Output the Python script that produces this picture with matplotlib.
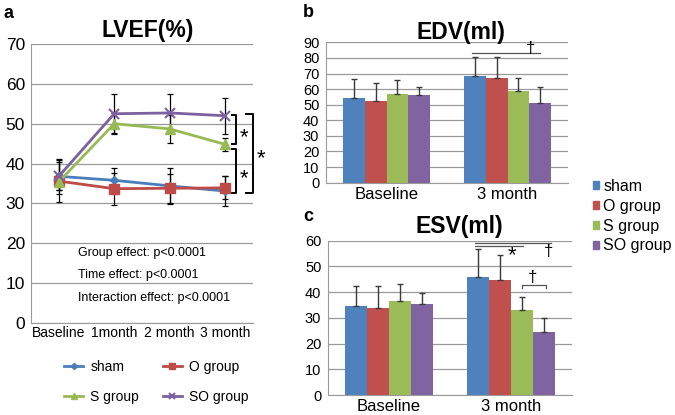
import matplotlib
matplotlib.use('Agg')
import matplotlib.pyplot as plt
from matplotlib.patches import Patch
import numpy as np

plt.rcParams['font.family'] = ['Liberation Sans', 'DejaVu Sans']

# Data
groups = ['sham', 'O group', 'S group', 'SO group']
time_points = ['Baseline', '1month', '2 month', '3 month']

lvef_sham = [36.8, 35.8, 34.4, 33.1]
lvef_o = [35.6, 33.7, 33.8, 33.9]
lvef_s = [35.4, 50.0, 48.7, 44.8]
lvef_so = [36.8, 52.5, 52.7, 52.0]
lvef_sham_sd = [4.4, 3.1, 4.5, 3.7]
lvef_o_sd = [5.2, 4.0, 3.7, 2.9]
lvef_s_sd = [2.0, 2.6, 3.5, 1.6]
lvef_so_sd = [3.5, 4.9, 4.8, 4.5]

vol_points = ['Baseline', '3 month']
edv_sham = [54.5, 68.5]
edv_o = [52.5, 67.3]
edv_s = [56.8, 58.5]
edv_so = [56.0, 51.0]
edv_sham_sd = [12.0, 12.0]
edv_o_sd = [11.5, 13.2]
edv_s_sd = [9.2, 8.5]
edv_so_sd = [5.5, 10.5]

esv_sham = [34.5, 46.0]
esv_o = [33.8, 44.6]
esv_s = [36.7, 33.0]
esv_so = [35.5, 24.5]
esv_sham_sd = [8.0, 10.7]
esv_o_sd = [8.7, 9.9]
esv_s_sd = [6.3, 5.0]
esv_so_sd = [4.2, 5.5]

line_colors = ['#4A7EBB', '#BE4B48', '#98B954', '#7D60A0']
bar_colors = ['#4F81BD', '#C0504D', '#9BBB59', '#8064A2']
grid_color = '#9A9A9A'

W, H = 675, 415
fig = plt.figure(figsize=(W / 100, H / 100), dpi=100)


def px_axes(l, t, r, b):
    return fig.add_axes([l / W, (H - b) / H, (r - l) / W, (b - t) / H])


def style_axes(ax):
    for side in ['top', 'right']:
        ax.spines[side].set_visible(False)
    for side in ['left', 'bottom']:
        ax.spines[side].set_color(grid_color)
    ax.set_axisbelow(True)
    ax.grid(axis='y', color=grid_color, linewidth=0.9)
    ax.tick_params(length=0)


# ---- panel a: LVEF line chart ----
ax = px_axes(31, 44, 253, 323)
style_axes(ax)
x = np.arange(len(time_points))
means = [lvef_sham, lvef_o, lvef_s, lvef_so]
sds = [lvef_sham_sd, lvef_o_sd, lvef_s_sd, lvef_so_sd]
markers = ['D', 's', '^', 'x']
msizes = [4.5, 7, 7, 7]
handles = []
for m, sd in zip(means, sds):
    ax.errorbar(x, m, yerr=sd, fmt='none', ecolor='black', elinewidth=0.9,
                capsize=2.2, capthick=0.9, zorder=2)
for m, c, mk, ms, g in zip(means, line_colors, markers, msizes, groups):
    h, = ax.plot(x, m, color=c, marker=mk, markersize=ms, linewidth=2,
                 mew=1.5 if mk == 'x' else 1, label=g, zorder=3)
    handles.append(h)
ax.set_xlim(-0.5, 3.5)
ax.set_ylim(0, 70)
ax.set_yticks(range(0, 71, 10))
ax.set_xticks(x)
ax.set_xticklabels(time_points, fontsize=10)
ax.tick_params(axis='y', labelsize=12.5, pad=4.3)
ax.tick_params(axis='x', pad=2)


# significance brackets (right of the line chart)
def bracket(ax, xv, xh, y0, y1):
    ax.plot([xh, xv, xv, xh], [y0, y0, y1, y1], color='black', lw=1.4,
            clip_on=False)


bracket(ax, 3.20, 3.12, 52.3, 44.8)
bracket(ax, 3.20, 3.12, 43.6, 32.7)
bracket(ax, 3.50, 3.38, 52.4, 32.7)
star = dict(fontsize=16, ha='center', va='center', clip_on=False)
ax.text(3.33, 46.5, '*', **star)
ax.text(3.33, 36.3, '*', **star)
ax.text(3.64, 41.1, '*', **star)

ax.text(0.35, 17.6, 'Group effect: p<0.0001', fontsize=9, va='center')
ax.text(0.35, 12.0, 'Time effect: p<0.0001', fontsize=9, va='center')
ax.text(0.35, 6.2, 'Interaction effect: p<0.0001', fontsize=9, va='center')

fig.legend([handles[0], handles[2], handles[1], handles[3]],
           [groups[0], groups[2], groups[1], groups[3]],
           ncol=2, loc='upper left', bbox_to_anchor=(64 / W, 1 - 360 / H),
           frameon=False, fontsize=10, handlelength=1.4, handletextpad=0.5,
           labelspacing=1.15, columnspacing=1.7, borderpad=0, borderaxespad=0,
           markerscale=0.7)

fig.text(148 / W, 1 - 37 / H, 'LVEF(%)', fontsize=16.5, fontweight='bold',
         ha='center', va='baseline')
fig.text(3 / W, 1 - 18 / H, 'a', fontsize=13, fontweight='bold', va='baseline')


# ---- panels b and c: bar charts ----
def bar_panel(ax, series, errs, ymax):
    style_axes(ax)
    xb = np.arange(len(vol_points))
    width = 0.18
    offsets = [-1.5, -0.5, 0.5, 1.5]
    for vals, sd, c, off in zip(series, errs, bar_colors, offsets):
        ax.bar(xb + off * width, vals, width, color=c,
               yerr=[np.zeros(len(sd)), sd],
               error_kw=dict(ecolor='#3A3A3A', elinewidth=1, capsize=2,
                             capthick=1))
    ax.set_xlim(-0.5, 1.5)
    ax.set_ylim(0, ymax)
    ax.set_yticks(range(0, ymax + 1, 10))
    ax.set_xticks(xb)
    ax.set_xticklabels(vol_points, fontsize=12)
    ax.tick_params(axis='y', labelsize=10.5, pad=4.8)
    ax.tick_params(axis='x', pad=3)


axb = px_axes(326, 42.3, 568, 182.7)
bar_panel(axb, [edv_sham, edv_o, edv_s, edv_so],
          [edv_sham_sd, edv_o_sd, edv_s_sd, edv_so_sd], 90)
axb.plot([0.707, 1.269], [82.9, 82.9], color='#555555', lw=0.9)
axb.text(1.194, 86.0, '†', fontsize=12, ha='center', va='center')
fig.text(461 / W, 1 - 39.3 / H, 'EDV(ml)', fontsize=16.5, fontweight='bold',
         ha='center', va='baseline')
fig.text(303 / W, 1 - 17 / H, 'b', fontsize=13, fontweight='bold', va='baseline')

axc = px_axes(328, 240.7, 572, 395)
bar_panel(axc, [esv_sham, esv_o, esv_s, esv_so],
          [esv_sham_sd, esv_o_sd, esv_s_sd, esv_so_sd], 60)
axc.plot([0.705, 1.325], [59.0, 59.0], color='#555555', lw=0.9, clip_on=False)
axc.plot([0.705, 1.101], [57.9, 57.9], color='#555555', lw=0.9)
axc.text(1.006, 54.3, '*', fontsize=16, ha='center', va='center')
axc.text(1.311, 55.7, '†', fontsize=12, ha='center', va='center')
axc.plot([1.088, 1.088, 1.284, 1.284], [41.6, 42.8, 42.8, 41.6],
         color='#555555', lw=0.9)
axc.text(1.18, 45.5, '†', fontsize=12, ha='center', va='center')
fig.text(459 / W, 1 - 233.3 / H, 'ESV(ml)', fontsize=16.5, fontweight='bold',
         ha='center', va='baseline')
fig.text(303 / W, 1 - 221 / H, 'c', fontsize=13, fontweight='bold', va='baseline')

# shared legend for the bar charts
patches = [Patch(color=c) for c in bar_colors]
fig.legend(patches, groups, loc='upper left',
           bbox_to_anchor=(593 / W, 1 - 179 / H), frameon=False,
           fontsize=11.5, handlelength=0.4, handleheight=0.4,
           handletextpad=0.25, labelspacing=0.3, borderpad=0,
           borderaxespad=0)

fig.savefig('out.png', dpi=100)
